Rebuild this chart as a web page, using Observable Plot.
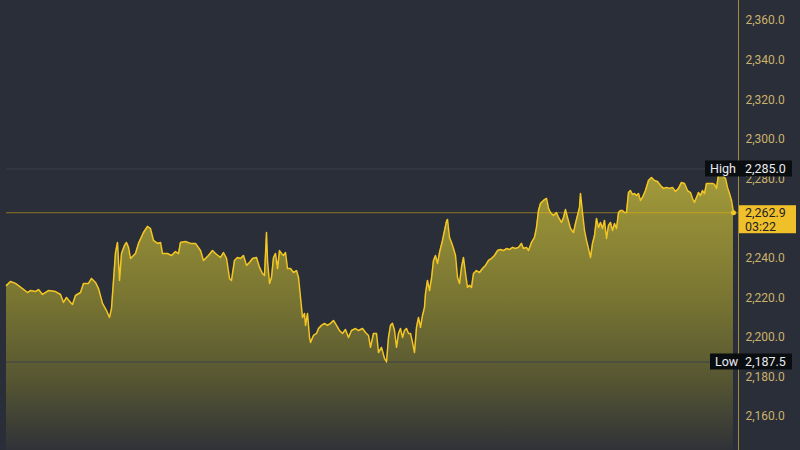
<!DOCTYPE html>
<html><head><meta charset="utf-8">
<script src="https://cdn.jsdelivr.net/npm/d3@7"></script>
<script src="https://cdn.jsdelivr.net/npm/@observablehq/plot@0.6"></script>
<style>html,body{margin:0;padding:0;background:#2a2e39;overflow:hidden}</style>
</head><body><div id="chart"></div>
<script>
// minutes since start of the 24h window
const times = [0,8,18,32,42,48,58,64,72,84,98,108,114,120,128,132,138,148,154,164,170,178,184,192,200,206,210,214,218,222,226,230,236,240,244,248,254,258,264,274,282,288,294,302,308,312,322,330,338,344,348,358,368,378,388,394,404,412,418,428,434,440,446,450,456,462,468,474,480,486,492,500,506,512,516,520,522,526,530,534,538,542,546,550,554,558,562,568,574,580,584,588,592,596,598,602,606,608,614,620,624,630,636,642,648,654,660,666,672,678,684,690,698,704,712,718,724,728,734,740,744,750,756,760,764,768,772,776,780,784,788,792,796,800,804,808,812,816,820,824,828,832,836,838,842,846,850,854,858,862,866,872,876,880,882,886,890,894,898,902,906,910,914,918,922,926,930,934,940,946,952,958,964,970,976,982,988,994,1000,1006,1012,1018,1024,1030,1034,1040,1044,1050,1056,1060,1064,1068,1074,1080,1084,1088,1094,1100,1104,1110,1114,1118,1122,1128,1134,1138,1142,1146,1148,1152,1156,1160,1164,1168,1172,1176,1180,1184,1188,1192,1196,1200,1204,1208,1212,1216,1220,1224,1228,1232,1236,1240,1244,1248,1252,1256,1260,1264,1268,1272,1278,1284,1290,1296,1302,1308,1314,1320,1326,1332,1338,1344,1350,1356,1362,1368,1372,1376,1380,1384,1388,1392,1396,1400,1406,1412,1416,1420,1424,1428,1434,1438,1442,1446,1450,1454];
const prices = [2226.2,2228.2,2227.2,2224.6,2222.6,2223.6,2223.1,2224.1,2221.6,2223.6,2223.1,2221.6,2217.6,2220.1,2217.6,2216.6,2221.1,2222.6,2227.2,2227.2,2229.7,2227.7,2224.6,2217.1,2213.5,2210.0,2214.5,2228.7,2242.8,2247.9,2228.7,2242.3,2246.4,2247.9,2245.4,2239.8,2241.3,2242.3,2247.4,2252.9,2256.0,2254.9,2248.9,2247.4,2247.9,2242.3,2242.3,2241.3,2243.3,2242.3,2247.9,2248.4,2247.4,2247.4,2243.8,2238.8,2241.3,2243.8,2242.3,2240.3,2242.8,2239.8,2229.7,2228.7,2238.8,2240.3,2239.8,2241.3,2236.3,2237.8,2239.8,2240.3,2235.3,2232.2,2231.2,2252.9,2238.8,2227.2,2230.2,2240.3,2242.3,2234.7,2243.8,2242.3,2241.3,2242.8,2234.7,2234.7,2232.7,2233.7,2230.2,2220.1,2210.0,2212.0,2206.0,2212.0,2199.9,2197.4,2200.9,2201.9,2204.4,2206.0,2207.0,2206.0,2207.0,2208.5,2206.0,2203.4,2201.9,2203.9,2199.9,2203.4,2204.4,2203.4,2204.4,2202.4,2200.9,2194.9,2201.9,2201.9,2192.3,2194.9,2189.3,2187.5,2199.9,2206.0,2207.0,2203.4,2194.9,2201.9,2204.4,2199.9,2203.4,2204.4,2201.9,2201.9,2197.4,2192.3,2205.0,2210.0,2205.0,2211.0,2215.1,2222.1,2228.7,2223.6,2229.7,2238.8,2241.3,2237.3,2242.8,2248.9,2253.9,2258.5,2259.5,2250.4,2247.9,2244.8,2241.3,2230.2,2227.2,2235.3,2240.3,2232.2,2225.2,2226.2,2225.2,2232.2,2233.7,2232.7,2234.7,2236.3,2238.8,2239.8,2241.3,2243.8,2244.3,2243.8,2244.8,2244.3,2245.4,2244.8,2245.4,2247.4,2244.8,2245.4,2243.8,2247.9,2250.4,2255.5,2264.0,2267.6,2269.1,2270.1,2265.1,2263.0,2261.5,2263.0,2260.5,2258.0,2260.5,2264.5,2260.5,2254.9,2252.9,2257.5,2261.5,2265.6,2272.6,2263.0,2253.9,2248.9,2244.8,2240.3,2247.4,2251.4,2260.0,2255.5,2258.0,2254.9,2259.0,2249.9,2256.5,2258.0,2253.9,2257.5,2254.9,2263.0,2264.0,2264.0,2263.0,2263.0,2273.1,2274.1,2272.1,2272.6,2271.6,2272.6,2269.1,2270.6,2274.1,2279.2,2280.7,2279.2,2278.7,2276.7,2275.2,2275.7,2275.2,2275.7,2273.6,2275.2,2278.2,2277.7,2274.1,2273.1,2270.1,2268.1,2270.6,2273.1,2271.6,2274.1,2272.6,2277.7,2277.7,2277.7,2277.2,2275.2,2282.2,2285.0,2281.2,2280.2,2275.7,2272.6,2269.1,2262.9];
// 2,260.0 sits fully behind the live-price tag in the reference, so it is not drawn
const yTicks = [2160, 2180, 2200, 2220, 2240, 2280, 2300, 2320, 2340, 2360];
const highValue = 2285.0;
const lowValue = 2187.5;
const lastValue = 2262.9;
const countdown = "03:22";
const xDomain = [0, 1464];
const yDomain = [2142.8, 2370.1];

const data = times.map((t, i) => ({t, p: prices[i]}));
const fmt = d3.format(",.1f");

const chart = Plot.plot({
  width: 800, height: 450,
  marginLeft: 6, marginRight: 62, marginTop: 0, marginBottom: 0,
  style: {background: "#2a2e39", fontFamily: "Roboto, 'Noto Sans', sans-serif", fontSize: "12px", overflow: "visible"},
  x: {domain: xDomain, axis: null},
  y: {domain: yDomain, axis: null},
  marks: [
    Plot.areaY(data, {x: "t", y1: yDomain[0], y2: "p", fill: "url(#areaGrad)", curve: "linear"}),
    Plot.ruleY([highValue, lowValue], {stroke: "#3c404b", strokeWidth: 1}),
    Plot.ruleY([lastValue], {stroke: "#f0b90b", strokeOpacity: 0.5, strokeWidth: 1}),
    Plot.lineY(data, {x: "t", y: "p", stroke: "#f3c623", strokeWidth: 1.5, curve: "linear"}),
    Plot.dot([data[data.length - 1]], {x: "t", y: "p", r: 2.5, fill: "#f3c623"}),
    Plot.ruleX([xDomain[1]], {stroke: "#a08a3c", strokeWidth: 1}),
    Plot.axisY(yTicks, {anchor: "right", label: null, tickSize: 0, tickPadding: 7, tickFormat: fmt, fill: "#cbb26a", textAnchor: "start", fontSize: 12})
  ]
});

const svg = d3.select(chart);
const ys = chart.scale("y");
const xs = chart.scale("x");
const xr = xs.apply(xDomain[1]);

const defs = svg.insert("defs", ":first-child");
const grad = defs.append("linearGradient").attr("id", "areaGrad")
  .attr("gradientUnits", "userSpaceOnUse")
  .attr("x1", 0).attr("x2", 0).attr("y1", ys.apply(highValue)).attr("y2", 450);
[[0, "rgb(165,156,58)"], [0.45, "rgb(122,118,50)"], [0.75, "rgb(86,86,50)"], [1, "rgb(48,50,56)"]]
  .forEach(([o, c]) => grad.append("stop").attr("offset", o).attr("stop-color", c));

function tag(value, left, label) {
  const cy = ys.apply(value);
  const g = svg.append("g").attr("text-anchor", "start");
  g.append("rect").attr("x", xr - left).attr("y", cy - 8).attr("width", left + 54).attr("height", 16).attr("fill", "#0b0e11");
  g.append("text").attr("x", xr - left + 5).attr("y", cy).attr("dy", "0.35em").attr("fill", "#eaecef")
    .attr("font-size", 12.5).text(label);
  g.append("text").attr("x", xr + 7).attr("y", cy).attr("dy", "0.35em").attr("fill", "#eaecef")
    .attr("font-size", 12.5).text(fmt(value));
}
tag(highValue, 33, "High");
tag(lowValue, 28, "Low");

const cy = ys.apply(lastValue);
const cg = svg.append("g").attr("text-anchor", "start");
cg.append("rect").attr("x", xr + 1).attr("y", cy - 7).attr("width", 57).attr("height", 28).attr("fill", "#f0c02a");
cg.append("text").attr("x", xr + 7).attr("y", cy).attr("dy", "0.35em").attr("fill", "#1e2026").attr("font-size", 12.5).text(fmt(lastValue));
cg.append("text").attr("x", xr + 7).attr("y", cy + 14).attr("dy", "0.35em").attr("fill", "#1e2026").attr("font-size", 12.5).text(countdown);

document.getElementById("chart").append(chart);
</script>
</body></html>
